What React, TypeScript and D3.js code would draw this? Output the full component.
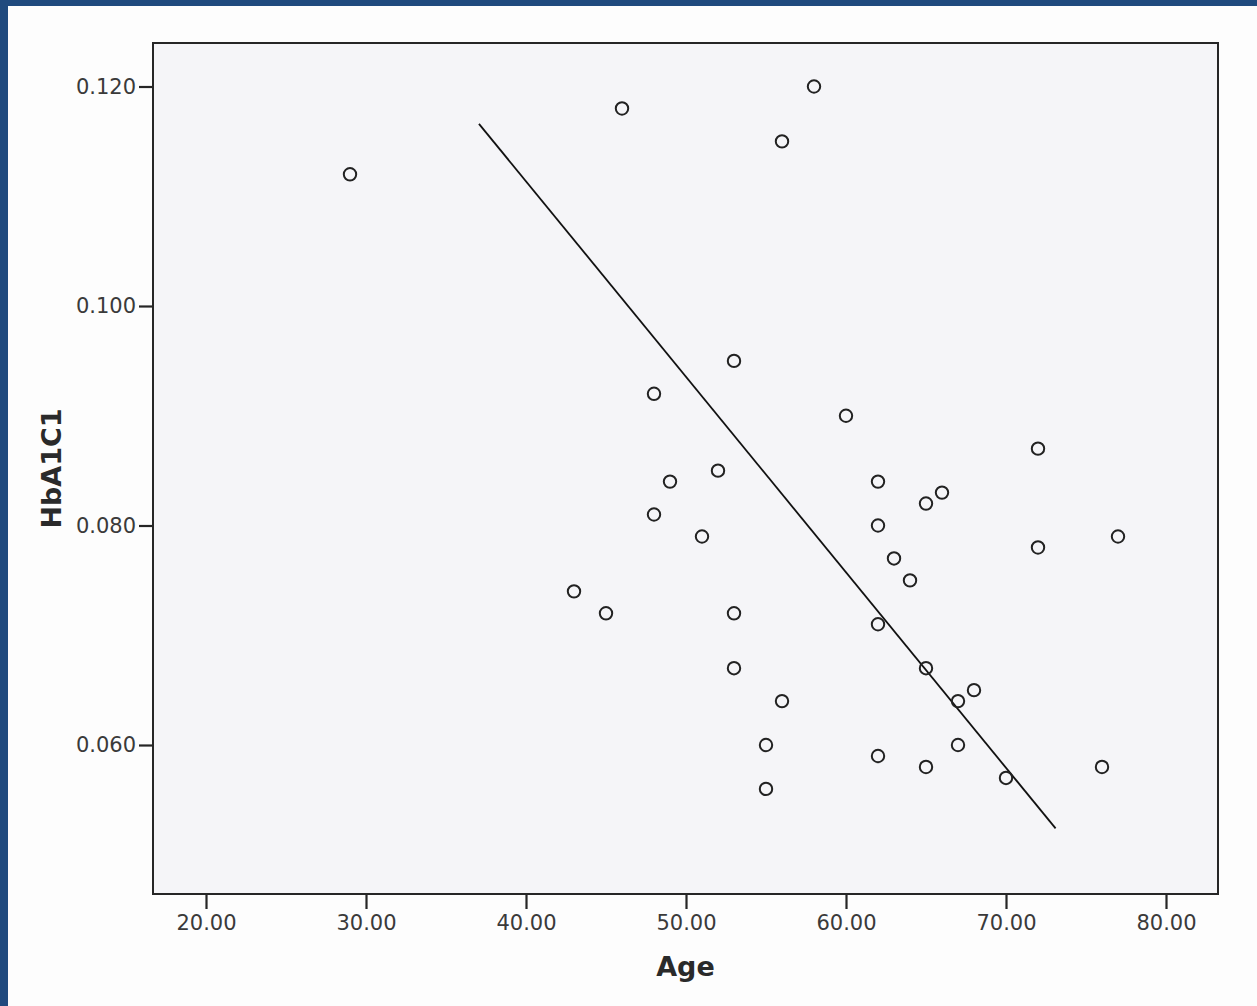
import { useRef, useEffect } from "react";
import * as d3 from "d3";

// values
const ages = [
  29, 46, 58, 56, 53, 48, 60, 72, 52, 49, 62, 66, 65, 48, 62, 51, 77, 72,
  63, 64, 43, 45, 53, 62, 53, 65, 68, 56, 67, 55, 67, 62, 65, 76, 70, 55,
];
const hba1c = [
  0.112, 0.118, 0.12, 0.115, 0.095, 0.092, 0.09, 0.087, 0.085, 0.084, 0.084,
  0.083, 0.082, 0.081, 0.08, 0.079, 0.079, 0.078, 0.077, 0.075, 0.074, 0.072,
  0.072, 0.071, 0.067, 0.067, 0.065, 0.064, 0.064, 0.06, 0.06, 0.059, 0.058,
  0.058, 0.057, 0.056,
];
// hand drawn fit line, two ends
const lineAges = [37.06, 73.1];
const lineHba1c = [0.1166, 0.0524];

const xTicks = [20, 30, 40, 50, 60, 70, 80];
const yTicks = [0.06, 0.08, 0.1, 0.12];

const W = 1257;
const H = 1006;
const box = { left: 153, top: 43, right: 1218, bottom: 894 };

export default function App() {
  const ref = useRef<SVGSVGElement>(null);

  useEffect(() => {
    const svg = d3.select(ref.current);
    svg.selectAll("*").remove();

    const x = d3.scaleLinear().domain([20, 80]).range([206, 1166]);
    const y = d3.scaleLinear().domain([0.06, 0.12]).range([745, 86.5]);

    svg.append("rect").attr("width", W).attr("height", H).attr("fill", "#fdfdfd");
    // blue page edge
    svg.append("rect").attr("width", 8).attr("height", H).attr("fill", "#204a7e");
    svg.append("rect").attr("width", W).attr("height", 6).attr("fill", "#204a7e");

    svg.append("rect")
      .attr("x", box.left)
      .attr("y", box.top)
      .attr("width", box.right - box.left)
      .attr("height", box.bottom - box.top)
      .attr("fill", "#f5f5f8")
      .attr("stroke", "#262626")
      .attr("stroke-width", 2);

    const font = "'DejaVu Sans', Verdana, sans-serif";

    const xAxis = svg.append("g")
      .attr("transform", `translate(0,${box.bottom})`)
      .call(
        d3.axisBottom(x)
          .tickValues(xTicks)
          .tickFormat(d3.format(".2f"))
          .tickSize(15)
          .tickPadding(6)
          .tickSizeOuter(0)
      );
    const yAxis = svg.append("g")
      .attr("transform", `translate(${box.left},0)`)
      .call(
        d3.axisLeft(y)
          .tickValues(yTicks)
          .tickFormat(d3.format(".3f"))
          .tickSize(14)
          .tickPadding(3)
          .tickSizeOuter(0)
      );
    [xAxis, yAxis].forEach((g) => {
      g.select(".domain").remove();
      g.selectAll(".tick line").attr("stroke", "#262626").attr("stroke-width", 2.2);
      g.selectAll(".tick text")
        .attr("fill", "#3a3a3a")
        .style("font-family", font)
        .style("font-size", "21px");
    });

    // trend line
    const line = d3.line<number>()
      .x((d) => x(d))
      .y((_, i) => y(lineHba1c[i]));
    svg.append("path")
      .attr("d", line(lineAges))
      .attr("fill", "none")
      .attr("stroke", "#111")
      .attr("stroke-width", 1.8);

    svg.append("g")
      .selectAll("circle")
      .data(ages)
      .join("circle")
      .attr("cx", (d) => x(d))
      .attr("cy", (_, i) => y(hba1c[i]))
      .attr("r", 6.2)
      .attr("fill", "none")
      .attr("stroke", "#222")
      .attr("stroke-width", 2);

    svg.append("text")
      .attr("x", (box.left + box.right) / 2)
      .attr("y", 976)
      .attr("text-anchor", "middle")
      .attr("fill", "#2a2a2a")
      .style("font-family", font)
      .style("font-size", "27px")
      .style("font-weight", "bold")
      .text("Age");

    svg.append("text")
      .attr("transform", `translate(61,${(box.top + box.bottom) / 2}) rotate(-90)`)
      .attr("text-anchor", "middle")
      .attr("fill", "#2a2a2a")
      .style("font-family", font)
      .style("font-size", "27px")
      .style("font-weight", "bold")
      .text("HbA1C1");
  }, []);

  return (
    <div style={{ position: "absolute", left: 0, top: 0 }}>
      <svg ref={ref} width={W} height={H} style={{ display: "block" }}></svg>
    </div>
  );
}
